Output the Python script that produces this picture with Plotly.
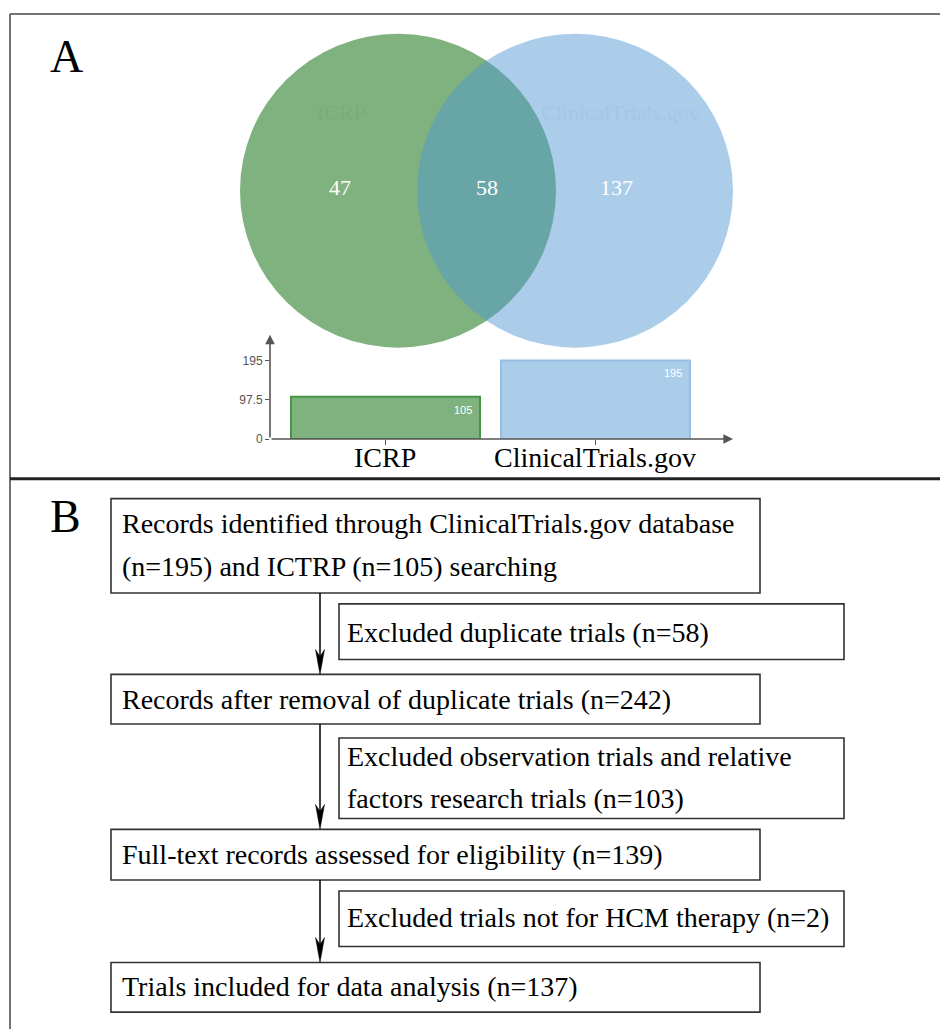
import plotly.graph_objects as go

# ---------------- data ----------------
venn_sets = ["ICRP", "ClinicalTrials.gov"]
venn_only = [47, 137]          # unique to each set
venn_both = [58]               # overlap
bar_categories = ["ICRP", "ClinicalTrials.gov"]
bar_values = [105, 195]
bar_ticks = [0, 97.5, 195]

flow_main = [
    ["Records identified through ClinicalTrials.gov database",
     "(n=195) and ICTRP (n=105) searching"],
    ["Records after removal of duplicate trials (n=242)"],
    ["Full-text records assessed for eligibility (n=139)"],
    ["Trials included for data analysis (n=137)"],
]
flow_excl = [
    ["Excluded duplicate trials (n=58)"],
    ["Excluded observation trials and relative",
     "factors research trials (n=103)"],
    ["Excluded trials not for HCM therapy (n=2)"],
]

# ---------------- styles / layout ----------------
W, H = 940, 1036
SERIF = "Liberation Serif, Times New Roman, serif"
SANS = "Liberation Sans, Arial, sans-serif"
GREEN = "rgb(127,178,127)"
BLUE_SRC = "rgb(80,151,211)"
BLUE = "rgb(171,205,234)"

fig = go.Figure()

# bar chart (inset axes)
fig.add_trace(go.Bar(
    x=list(range(len(bar_categories))), y=bar_values, width=0.9,
    marker=dict(color=[GREEN, BLUE],
                line=dict(color=["rgb(70,150,70)", "rgb(150,190,228)"], width=2)),
    xaxis="x2", yaxis="y2", showlegend=False, hoverinfo="skip",
))

shapes = []
annotations = []

# panel borders
shapes.append(dict(type="line", xref="x", yref="y", x0=10, x1=W + 5, y0=14, y1=14,
                   line=dict(color="#444", width=1.5)))
shapes.append(dict(type="line", xref="x", yref="y", x0=10, x1=10, y0=14, y1=H + 5,
                   line=dict(color="#444", width=1.5)))
shapes.append(dict(type="line", xref="x", yref="y", x0=10, x1=W + 5, y0=482, y1=482,
                   line=dict(color="#222", width=3)))

# venn circles
cy, r = 192, 158
cx = [398, 575]
shapes.append(dict(type="circle", xref="x", yref="y", x0=cx[0] - r, x1=cx[0] + r,
                   y0=cy - r, y1=cy + r, fillcolor=GREEN, line=dict(width=0), layer="below"))
shapes.append(dict(type="circle", xref="x", yref="y", x0=cx[1] - r, x1=cx[1] + r,
                   y0=cy - r, y1=cy + r, fillcolor=BLUE_SRC, opacity=0.48,
                   line=dict(width=0), layer="below"))

# faint set names
annotations.append(dict(x=341, y=113, xref="x", yref="y", text=venn_sets[0], showarrow=False,
                        font=dict(family=SERIF, size=22, color="rgb(121,172,121)")))
annotations.append(dict(x=620, y=113, xref="x", yref="y", text=venn_sets[1], showarrow=False,
                        font=dict(family=SERIF, size=22, color="rgb(164,199,230)")))
# venn counts
for xx, val in zip([340, 487, 616], [venn_only[0], venn_both[0], venn_only[1]]):
    annotations.append(dict(x=xx, y=189, xref="x", yref="y", text=str(val), showarrow=False,
                            font=dict(family=SERIF, size=22, color="white")))

# panel letters
annotations.append(dict(x=48, y=57, xref="x", yref="y", text="A", showarrow=False,
                        xanchor="left", font=dict(family=SERIF, size=46, color="black")))
annotations.append(dict(x=48, y=520, xref="x", yref="y", text="B", showarrow=False,
                        xanchor="left", font=dict(family=SERIF, size=46, color="black")))

# bar value labels
for i, v in enumerate(bar_values):
    annotations.append(dict(x=i + 0.37, y=v, xref="x2", yref="y2", yshift=-13,
                            text=str(v), showarrow=False,
                            font=dict(family=SANS, size=11, color="white")))
# bar category labels
for i, c in enumerate(bar_categories):
    annotations.append(dict(x=i, y=461, xref="x2", yref="y", text=c, showarrow=False,
                            yanchor="middle",
                            font=dict(family=SERIF, size=28, color="black")))

# bar axes as arrows
XR = [-0.55, 1.655]
YR = [0, 259]
annotations.append(dict(x=XR[1], y=0, ax=XR[0], ay=0, xref="x2", yref="y2",
                        axref="x2", ayref="y2", text="", showarrow=True,
                        arrowhead=2, arrowsize=1.2, arrowwidth=1.6, arrowcolor="#555"))
annotations.append(dict(x=XR[0], y=YR[1], ax=XR[0], ay=0, xref="x2", yref="y2",
                        axref="x2", ayref="y2", text="", showarrow=True,
                        arrowhead=2, arrowsize=1.2, arrowwidth=1.6, arrowcolor="#555"))

# flowchart
main_boxes = [(111, 760, 502, 597), (111, 760, 679, 729), (111, 760, 835, 886), (111, 760, 969, 1019)]
main_text_y = [[527, 570], [704], [860], [993]]
excl_boxes = [(339, 844, 608, 664), (339, 844, 743, 824), (339, 844, 897, 953)]
excl_text_y = [[637], [762, 804], [924]]
FS = 28

for (x0, x1, y0, y1), lines, ys in zip(main_boxes, flow_main, main_text_y):
    shapes.append(dict(type="rect", xref="x", yref="y", x0=x0, x1=x1, y0=y0, y1=y1,
                       line=dict(color="#333", width=1.6)))
    for t, yy in zip(lines, ys):
        annotations.append(dict(x=x0 + 9, y=yy, xref="x", yref="y", text=t, showarrow=False,
                                xanchor="left", yanchor="middle",
                                font=dict(family=SERIF, size=FS, color="black")))
for (x0, x1, y0, y1), lines, ys in zip(excl_boxes, flow_excl, excl_text_y):
    shapes.append(dict(type="rect", xref="x", yref="y", x0=x0, x1=x1, y0=y0, y1=y1,
                       line=dict(color="#333", width=1.6)))
    for t, yy in zip(lines, ys):
        annotations.append(dict(x=x0 + 6, y=yy, xref="x", yref="y", text=t, showarrow=False,
                                xanchor="left", yanchor="middle",
                                font=dict(family=SERIF, size=FS, color="black")))

# connectors: thin line plus a long narrow arrowhead
ARROW_X = 320
HEAD_L, HEAD_W, NOTCH = 25, 4.5, 18
for a, b in zip(main_boxes[:-1], main_boxes[1:]):
    top, bot = a[3], b[2]
    shapes.append(dict(type="line", xref="x", yref="y", x0=ARROW_X, x1=ARROW_X,
                       y0=top, y1=bot - NOTCH + 2, line=dict(color="black", width=1.5)))
    shapes.append(dict(type="path", xref="x", yref="y",
                       path=(f"M {ARROW_X},{bot} L {ARROW_X - HEAD_W},{bot - HEAD_L} "
                             f"L {ARROW_X},{bot - NOTCH} L {ARROW_X + HEAD_W},{bot - HEAD_L} Z"),
                       fillcolor="black", line=dict(color="black", width=0.5)))

fig.update_layout(
    width=W, height=H, margin=dict(l=0, r=0, t=0, b=0),
    paper_bgcolor="white", plot_bgcolor="rgba(0,0,0,0)",
    shapes=shapes, annotations=annotations, showlegend=False,
    xaxis=dict(domain=[0, 1], range=[0, W], visible=False, fixedrange=True),
    yaxis=dict(domain=[0, 1], range=[H, 0], visible=False, fixedrange=True),
    xaxis2=dict(domain=[270 / W, 733 / W], range=XR, anchor="y2",
                tickmode="array", tickvals=list(range(len(bar_categories))),
                showticklabels=False, ticks="outside", ticklen=5, tickcolor="#555",
                showline=False, showgrid=False, zeroline=False, fixedrange=True),
    yaxis2=dict(domain=[1 - 442 / H, 1 - 337 / H], range=YR, anchor="x2",
                tickmode="array", tickvals=bar_ticks, ticktext=["0", "97.5", "195"],
                ticks="outside", ticklen=4, tickcolor="#555",
                showline=False, showgrid=False, zeroline=False, fixedrange=True,
                tickfont=dict(family=SANS, size=12, color="#555")),
)

fig.write_html("out.html", config={"displayModeBar": False},
               post_script="document.body.style.margin='0';")
